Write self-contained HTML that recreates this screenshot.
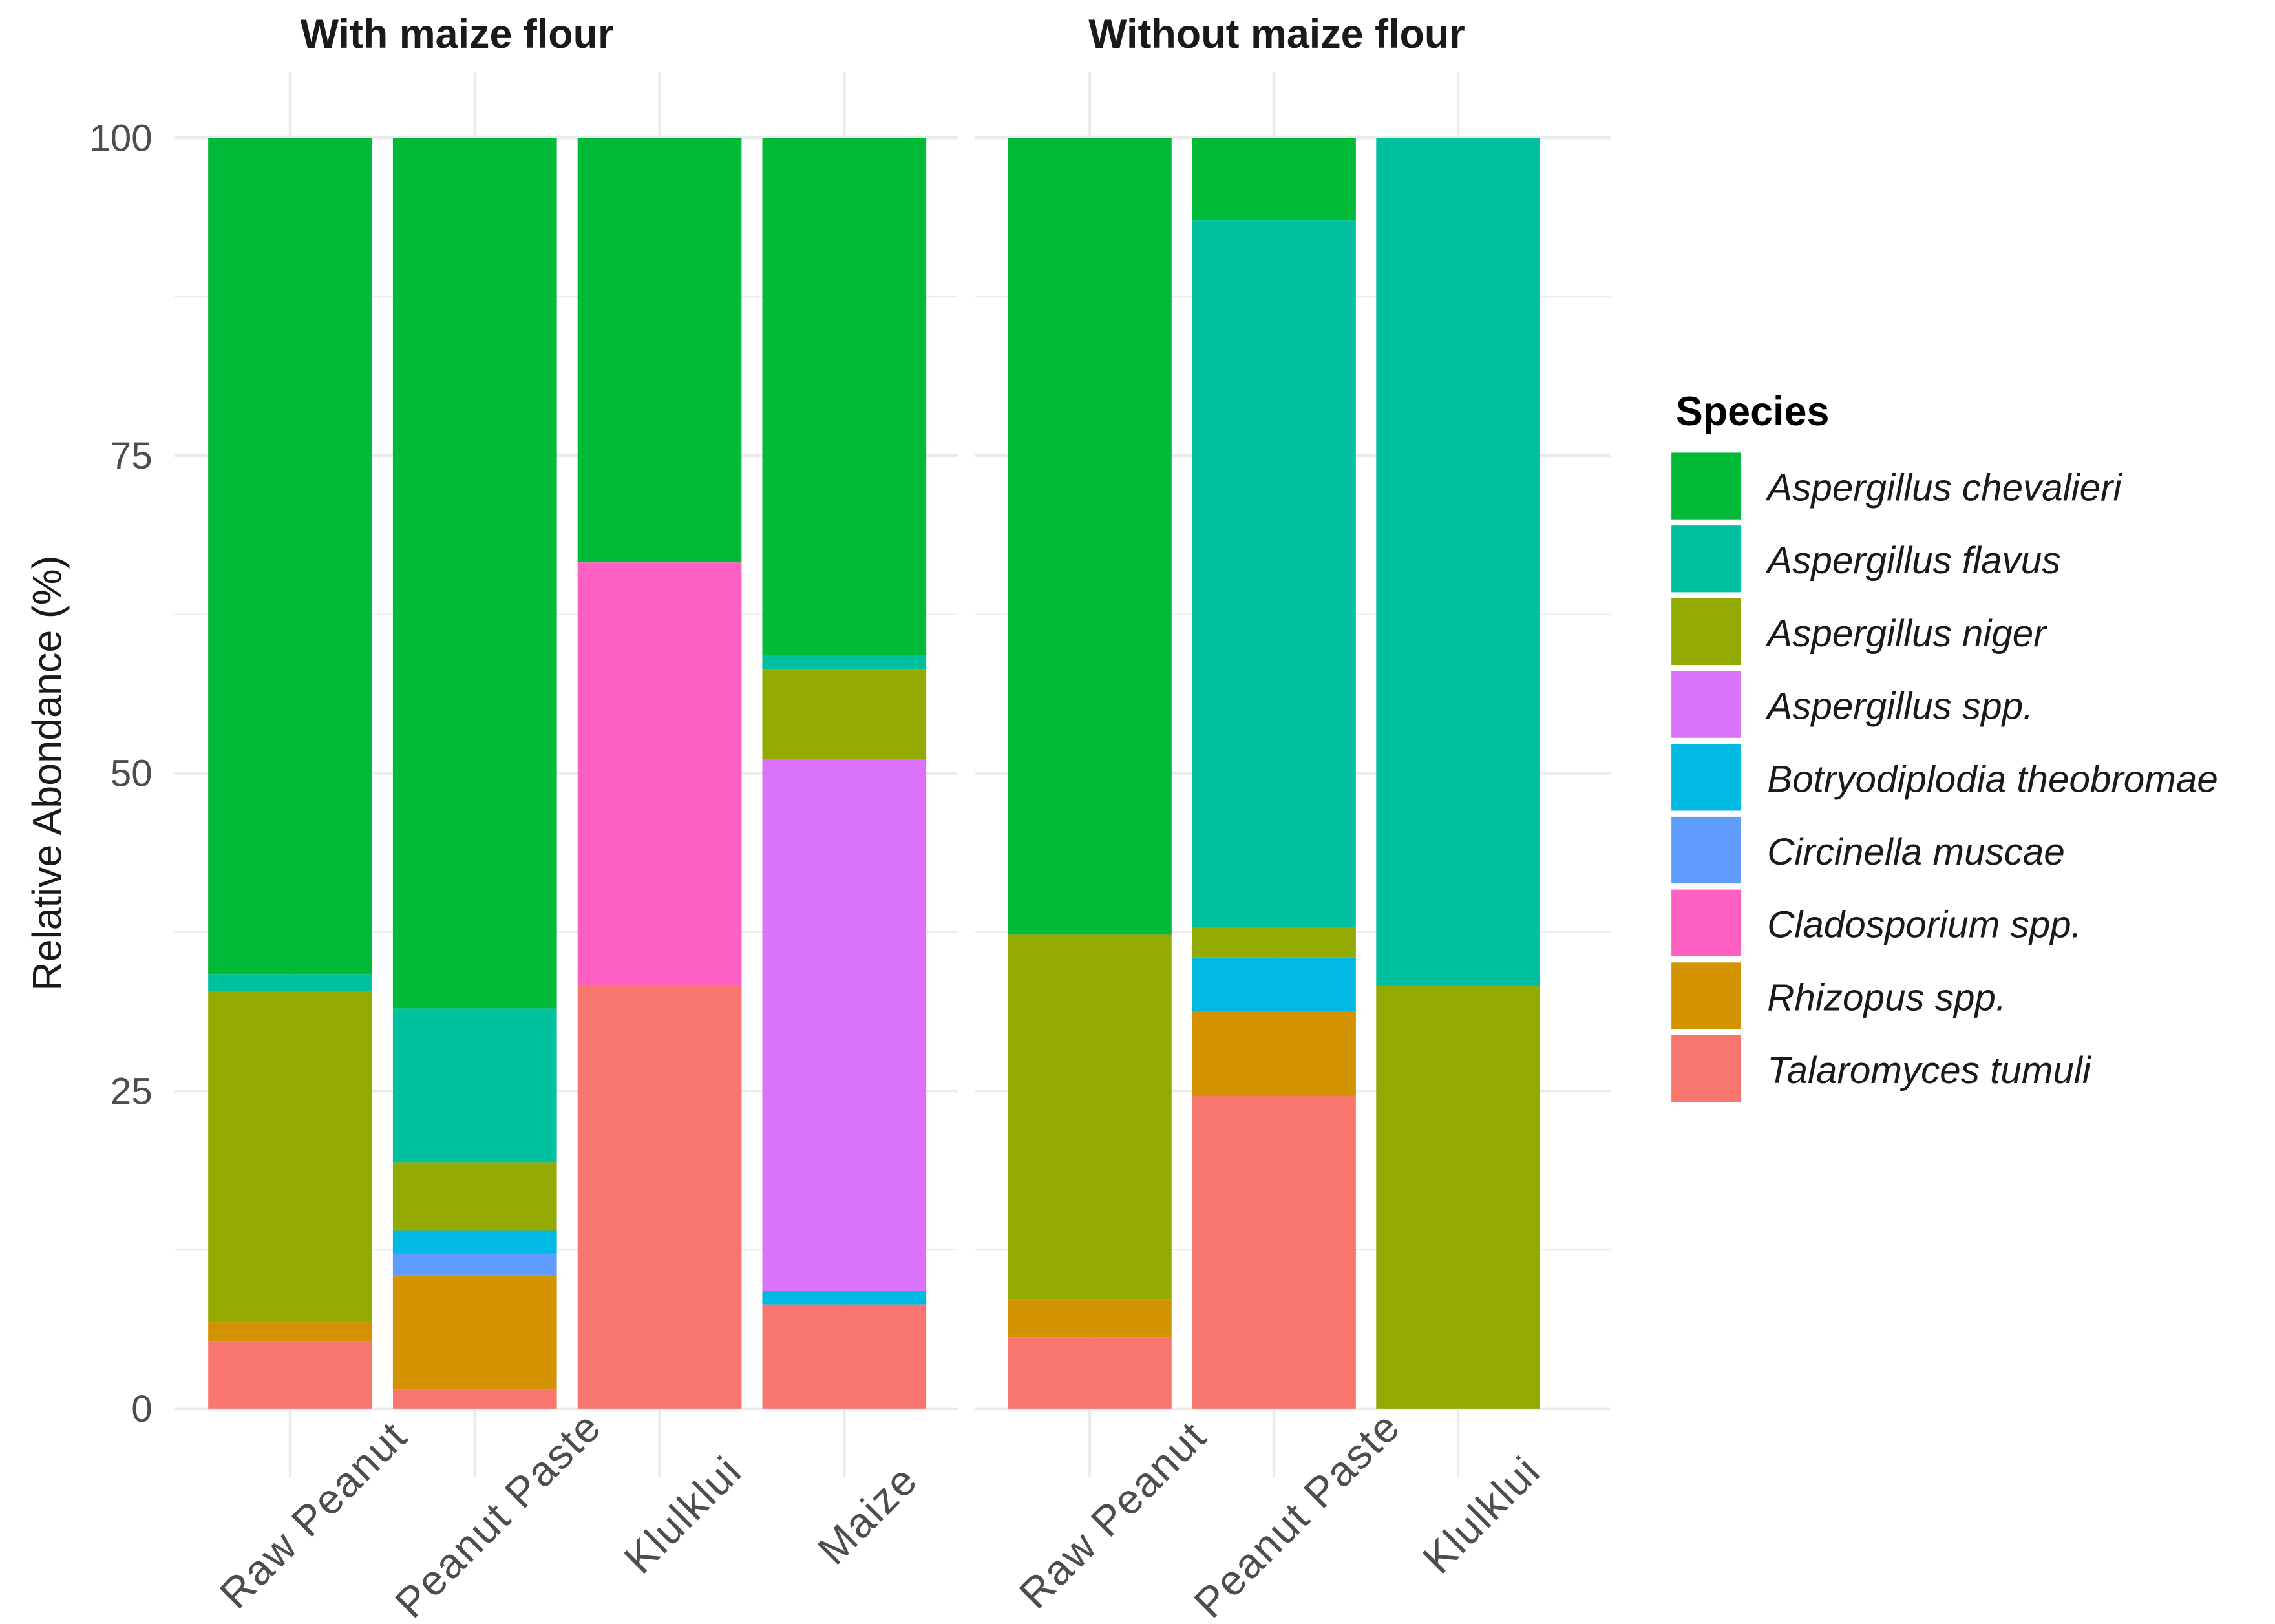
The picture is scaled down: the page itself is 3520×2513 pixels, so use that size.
<!DOCTYPE html>
<html><head><meta charset="utf-8"><style>
html,body{margin:0;padding:0;background:#fff;}
svg{display:block;font-family:"Liberation Sans",sans-serif;}
</style></head><body>
<svg id="chart" width="3520" height="2513" viewBox="0 0 1568 1119.4" preserveAspectRatio="none" xmlns="http://www.w3.org/2000/svg">
<g id="grid"></g>
<g id="bars"></g>
<g id="axes"></g>
<text x="315" y="33" text-anchor="middle" font-size="28" font-weight="bold" fill="#1a1a1a">With maize flour</text>
<text x="880" y="33" text-anchor="middle" font-size="28" font-weight="bold" fill="#1a1a1a">Without maize flour</text>
<text transform="translate(42,533) rotate(-90)" text-anchor="middle" font-size="28" fill="#1a1a1a">Relative Abondance (%)</text>
<g id="legend">
<text x="1155" y="293" font-size="28" font-weight="bold" fill="#000">Species</text>
</g>
</svg>
<script>
const species = ["Aspergillus chevalieri","Aspergillus flavus","Aspergillus niger","Aspergillus spp.","Botryodiplodia theobromae","Circinella muscae","Cladosporium spp.","Rhizopus spp.","Talaromyces tumuli"];
const colors = ["#00BA38","#00C19F","#93AA00","#DB72FB","#00B9E3","#619CFF","#FF61C3","#D39200","#F8766D"];
const categoriesWith = ["Raw Peanut","Peanut Paste","Klulklui","Maize"];
const categoriesWithout = ["Raw Peanut","Peanut Paste","Klulklui"];
// values per bar, in species order
const withRaw = [65.8,1.4,26.0,0,0,0,0,1.5,5.3];
const withPaste = [68.5,12.1,5.4,0,1.8,1.7,0,9.0,1.5];
const withKlul = [33.4,0,0,0,0,0,33.3,0,33.3];
const withMaize = [40.7,1.1,7.1,41.8,1.1,0,0,0,8.2];
const woRaw = [62.7,0,28.7,0,0,0,0,3.0,5.6];
const woPaste = [6.5,55.6,2.4,0,4.2,0,0,6.7,24.6];
const woKlul = [0,66.7,33.3,0,0,0,0,0,0];
const yTicks = [0,25,50,75,100];

const NS="http://www.w3.org/2000/svg";
function mk(tag,attrs,parent){const e=document.createElementNS(NS,tag);for(const k in attrs)e.setAttribute(k,attrs[k]);parent.appendChild(e);return e;}
const y0=971, y100=95;
function yScale(v){return y0-(v/100)*(y0-y100);}
const panels=[
 {left:120,right:660,first:200,step:127.3,cats:categoriesWith,vals:[withRaw,withPaste,withKlul,withMaize]},
 {left:672,right:1110,first:751,step:127,cats:categoriesWithout,vals:[woRaw,woPaste,woKlul]}
];
const grid=document.getElementById('grid'), bars=document.getElementById('bars'), axes=document.getElementById('axes');
const bw=113;
panels.forEach((p,pi)=>{
  for(let t=0;t<=100;t+=12.5){
    const l=mk('line',{x1:p.left,x2:p.right,y1:yScale(t),y2:yScale(t),stroke:'#ebebeb','stroke-width':t%25===0?2:1},grid);
    
    
  }
  p.cats.forEach((c,i)=>{
    const cx=p.first+i*p.step;
    const gl=mk('line',{x1:cx,x2:cx,y1:50,y2:1018,stroke:'#ebebeb','stroke-width':2},grid);
    
    
    let cum=0;
    for(let s=species.length-1;s>=0;s--){
      const v=p.vals[i][s]; if(v<=0)continue;
      const r=mk('rect',{x:cx-bw/2,y:yScale(cum+v),width:bw,height:yScale(cum)-yScale(cum+v),fill:colors[s]},bars);
      
      
      cum+=v;
    }
    const t=mk('text',{transform:`translate(${cx+16},${1044}) rotate(-45)`,'text-anchor':'middle','dominant-baseline':'central','font-size':29,'letter-spacing':1,fill:'#4d4d4d'},axes);
    t.textContent=c;
    
    
  });
});
yTicks.forEach(v=>{
  const t=mk('text',{x:105,y:yScale(v)+9,'text-anchor':'end','font-size':26,fill:'#4d4d4d'},axes);
  t.textContent=v;
  
  
});
const lg=document.getElementById('legend');
species.forEach((s,i)=>{
  const yy=312+i*50.2;
  const r=mk('rect',{x:1152,y:yy,width:48,height:46,fill:colors[i]},lg);
  
  
  const t=mk('text',{x:1218,y:yy+33,'font-size':26,'font-style':'italic',fill:'#1a1a1a'},lg);
  t.textContent=s;
  
  
});
</script>
</body></html>
